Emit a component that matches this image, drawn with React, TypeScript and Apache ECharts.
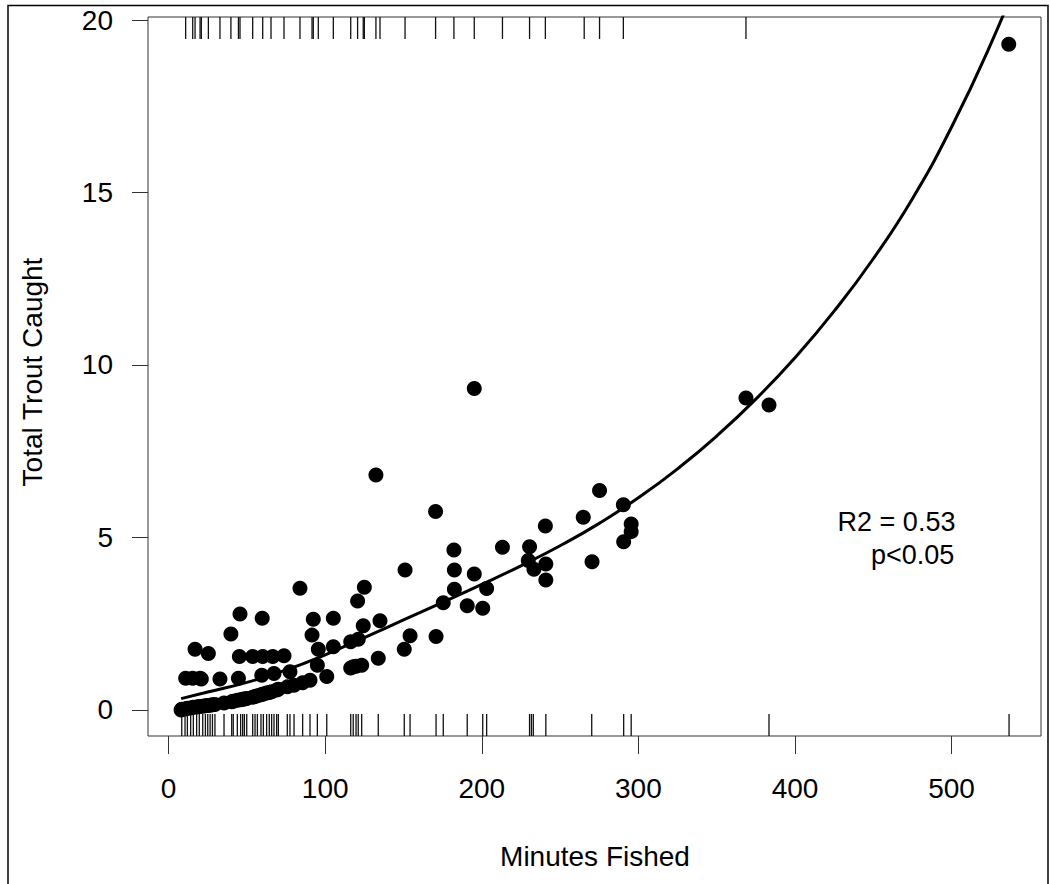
import React, { useEffect, useRef } from "react";
import * as echarts from "echarts";

// ---- data ----
const xTicks = [0, 100, 200, 300, 400, 500];
const yTicks = [0, 5, 10, 15, 20];

const minutesFished = [
  8, 8.4, 10.5, 12, 14.1, 15.8, 17.9, 19.6, 21.8, 23.5, 25, 26.5, 28, 29.6, 35.4, 40.3, 41.3, 43.9,
  46, 47.3, 48.4, 49.9, 53.7, 55.2, 56.7, 59, 60.5, 62.6, 64.3, 65.8, 69, 70.1, 75.8, 80.1, 85.6, 90.3,
  10.9, 15.4, 20.1, 20.9, 16.9, 25.4, 32.8, 39.8, 44.6, 45.6, 45.2, 53.7, 59.8, 60.1, 59.5, 66.5,
  73.7, 67.3, 77.5, 83.9, 92.4, 91.6, 95.6, 95, 101, 105.2, 105.2, 116.3, 116.3, 117.9, 119.7, 123.3,
  121.1, 120.7, 125, 124.3, 135, 132.4, 133.9, 150.5, 151, 154.2, 170.5, 170.8, 175.4, 182.2, 182.5,
  182.5, 190.7, 195.2, 195.2, 200.6, 203.1, 213.2, 230.5, 229.7, 233.3, 240.6, 240.9, 240.9, 264.8,
  270.4, 275.2, 290.4, 290.6, 295.4, 295.4, 368.7, 383.4, 536.5,
];
const troutCaught = [
  0.0, 0.02, 0.03, 0.05, 0.06, 0.08, 0.09, 0.1, 0.11, 0.12, 0.13, 0.14, 0.15, 0.16, 0.2, 0.24, 0.25, 0.28,
  0.3, 0.31, 0.32, 0.33, 0.37, 0.39, 0.41, 0.44, 0.46, 0.49, 0.51, 0.53, 0.58, 0.6, 0.67, 0.72, 0.79, 0.86,
  0.92, 0.92, 0.92, 0.9, 1.76, 1.64, 0.9, 2.2, 0.92, 2.78, 1.55, 1.55, 2.66, 1.55, 1.01, 1.55,
  1.57, 1.06, 1.11, 3.53, 2.63, 2.17, 1.76, 1.3, 0.97, 2.66, 1.83, 1.98, 1.22, 1.25, 1.27, 1.3,
  2.05, 3.16, 3.56, 2.44, 2.59, 6.81, 1.5, 1.76, 4.06, 2.15, 5.75, 2.13, 3.11, 4.64, 4.06,
  3.5, 3.02, 9.32, 3.94, 2.95, 3.52, 4.72, 4.73, 4.33, 4.08, 5.33, 4.23, 3.77, 5.59,
  4.3, 6.36, 5.95, 4.88, 5.39, 5.17, 9.04, 8.84, 19.3,
];

// fitted curve
const curveX = [8, 25, 50, 75, 100, 125, 150, 175, 200, 225, 250, 275, 300, 325, 350, 375, 400, 425, 450, 475, 500, 525, 545];
const curveY = [0.33, 0.52, 0.8, 1.16, 1.6, 2.1, 2.61, 3.12, 3.64, 4.18, 4.76, 5.41, 6.15, 6.99, 7.94, 9.01, 10.21, 11.56, 13.08, 14.82, 16.9, 19.3, 21.5];

// rug marks: top = above the fit, bottom = below the fit
const rugAbove = [
  10.9, 15.4, 16.9, 20.1, 20.9, 25.4, 32.8, 39.8, 44.6, 45.6, 53.7, 60.1, 65.4, 73.7, 83.9, 91.6, 92.4,
  95.6, 105.2, 116.3, 120.7, 124.3, 125, 132.4, 135, 151, 170.5, 182.2, 195.2, 213.2, 230.5, 240.6,
  265.4, 275.2, 290.4, 368.7,
];
const rugBelow = [
  8.4, 10.5, 12, 14.1, 15.8, 17.9, 19.6, 21.8, 23.5, 25, 26.5, 28, 29.6, 35.4, 40.3, 41.3, 43.9, 46,
  47.3, 48.4, 49.9, 53.7, 55.2, 56.7, 59, 60.5, 62.6, 64.3, 65.8, 67.3, 69, 70.1, 75.8, 77.5, 80.1,
  85.6, 90.3, 95, 101, 116.3, 117.9, 119.7, 121.1, 123.3, 133.9, 150.5, 154.2, 170.8, 175.4, 190.7,
  200.6, 203.1, 230.5, 231.7, 232.9, 240.9, 270.2, 290.6, 295.4, 383.4, 536.7,
];

const X_MIN = -13.15;
const X_MAX = 557.1;
const Y_MIN = -0.754;
const Y_MAX = 20.087;

const FONT = "'Liberation Sans', Arial, sans-serif";
const FS = 28;

export default function App() {
  const ref = useRef<HTMLDivElement>(null);

  useEffect(() => {
    if (!ref.current) return;
    const chart = echarts.init(ref.current, null, { renderer: "svg" });

    const rugSeries = (vals: number[], atTop: boolean) => ({
      type: "custom",
      silent: true,
      clip: false,
      data: vals.map((v) => [v, atTop ? Y_MAX : Y_MIN]),
      encode: { x: 0, y: 1 },
      renderItem: (_params: any, api: any) => {
        const p = api.coord([api.value(0), api.value(1)]);
        const len = 22;
        return {
          type: "line",
          shape: { x1: p[0], y1: p[1], x2: p[0], y2: atTop ? p[1] + len : p[1] - len },
          style: { stroke: "#111", lineWidth: 1.3 },
        };
      },
      z: 3,
    });

    chart.setOption({
      animation: false,
      backgroundColor: "#ffffff",
      grid: {
        left: 148,
        top: 17,
        right: 9,
        bottom: 148,
        show: true,
        borderColor: "#333",
        borderWidth: 1,
        backgroundColor: "transparent",
      },
      xAxis: {
        type: "value",
        min: X_MIN,
        max: X_MAX,
        splitLine: { show: false },
        axisLine: { show: false, onZero: false },
        axisTick: {
          show: true,
          customValues: xTicks,
          length: 18,
          lineStyle: { color: "#333", width: 1 },
        },
        axisLabel: {
          customValues: xTicks,
          margin: 38,
          fontSize: FS,
          fontFamily: FONT,
          color: "#000",
          formatter: (v: number) => String(v),
        },
      },
      yAxis: {
        type: "value",
        min: Y_MIN,
        max: Y_MAX,
        splitLine: { show: false },
        axisLine: { show: false, onZero: false },
        axisTick: {
          show: true,
          customValues: yTicks,
          length: 16,
          lineStyle: { color: "#333", width: 1 },
        },
        axisLabel: {
          customValues: yTicks,
          margin: 35,
          fontSize: FS,
          fontFamily: FONT,
          color: "#000",
          formatter: (v: number) => String(v),
        },
      },
      series: [
        {
          type: "scatter",
          data: minutesFished.map((x, i) => [x, troutCaught[i]]),
          symbol: "circle",
          symbolSize: 15,
          itemStyle: { color: "#000", opacity: 1 },
          z: 2,
          silent: true,
        },
        {
          type: "line",
          data: curveX.map((x, i) => [x, curveY[i]]),
          smooth: 0.5,
          symbol: "none",
          lineStyle: { color: "#000", width: 3 },
          clip: true,
          z: 4,
          silent: true,
        },
        rugSeries(rugAbove, true),
        rugSeries(rugBelow, false),
      ],
      graphic: [
        {
          type: "rect",
          shape: { x: 8, y: 5.5, width: 1040, height: 900 },
          style: { fill: "none", stroke: "#000", lineWidth: 1.5 },
          silent: true,
        },
        {
          type: "text",
          x: 32,
          y: 372,
          rotation: Math.PI / 2,
          style: {
            text: "Total Trout Caught",
            fontSize: FS,
            fontFamily: FONT,
            fill: "#000",
            align: "center",
            verticalAlign: "middle",
          },
        },
        {
          type: "text",
          x: 595,
          y: 856,
          style: {
            text: "Minutes Fished",
            fontSize: FS,
            fontFamily: FONT,
            fill: "#000",
            align: "center",
            verticalAlign: "middle",
          },
        },
        {
          type: "text",
          x: 896.5,
          y: 522,
          style: {
            text: "R2 = 0.53",
            fontSize: FS - 1,
            fontFamily: FONT,
            fill: "#000",
            align: "center",
            verticalAlign: "middle",
          },
        },
        {
          type: "text",
          x: 871,
          y: 555,
          style: {
            text: "p<0.05",
            fontSize: FS - 1,
            fontFamily: FONT,
            fill: "#000",
            align: "left",
            verticalAlign: "middle",
          },
        },
      ],
    });

    return () => chart.dispose();
  }, []);

  return (
    <div
      ref={ref}
      style={{ position: "fixed", left: 0, top: 0, width: 1050, height: 884, background: "#fff" }}
    />
  );
}
